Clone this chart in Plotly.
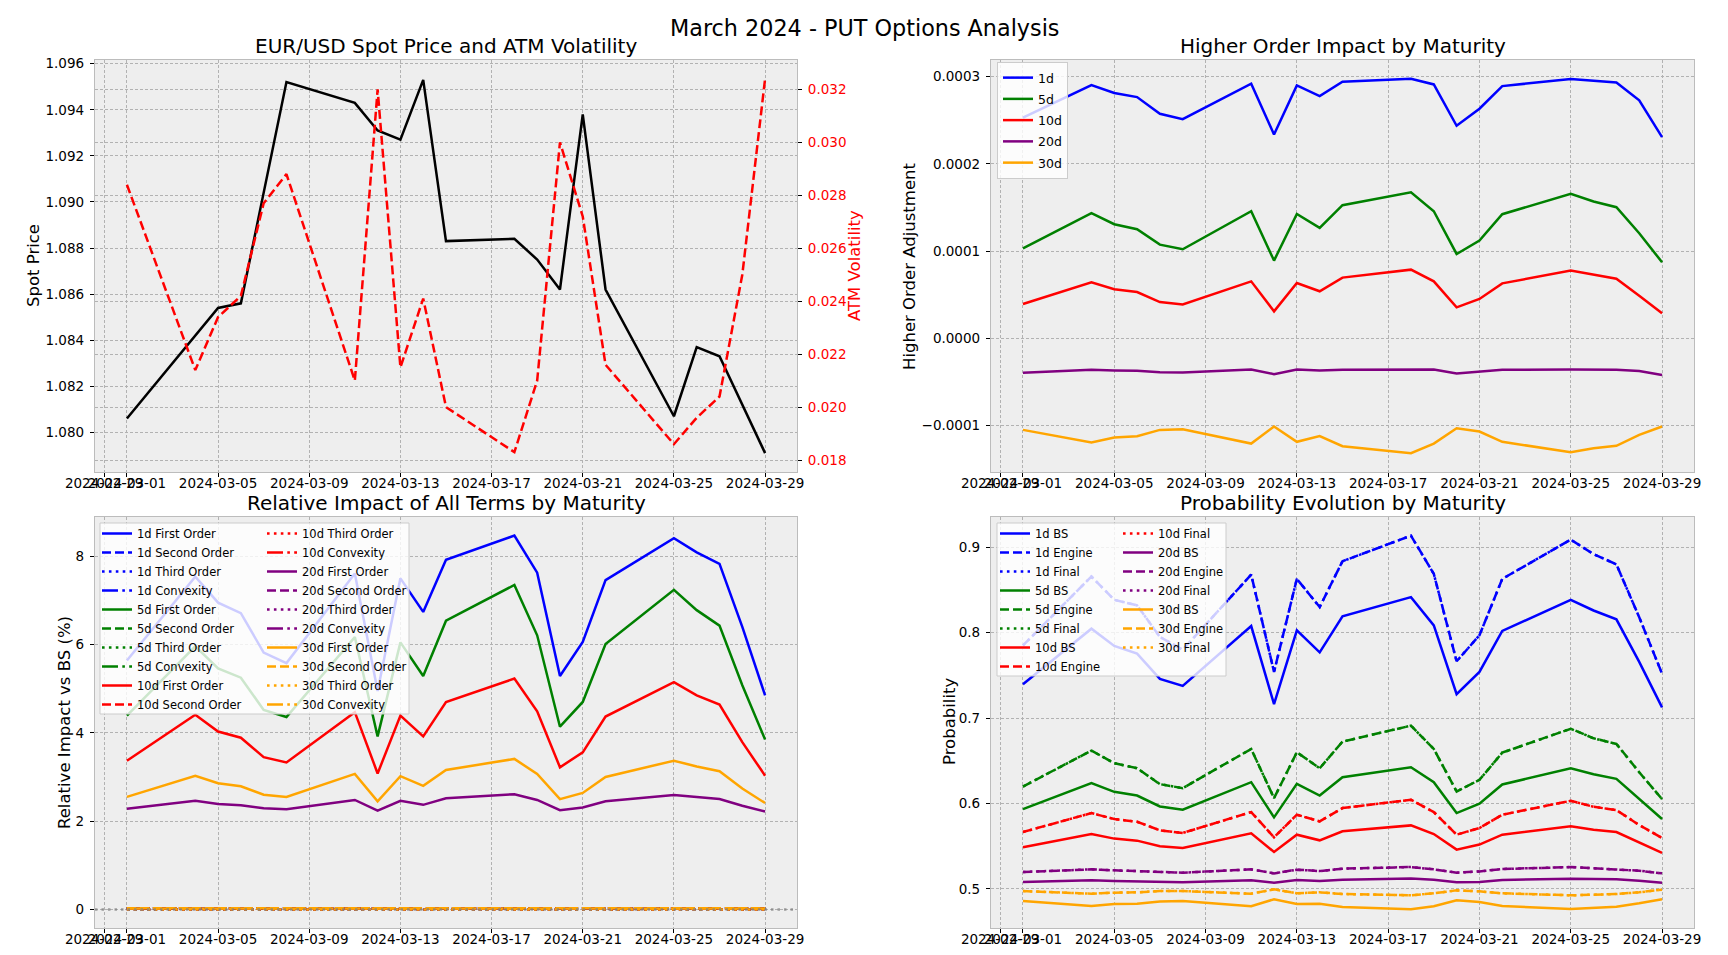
import plotly.graph_objects as go

# ---------------- data ----------------
dates = ["2024-03-01", "2024-03-04", "2024-03-05", "2024-03-06", "2024-03-07",
         "2024-03-08", "2024-03-11", "2024-03-12", "2024-03-13", "2024-03-14",
         "2024-03-15", "2024-03-18", "2024-03-19", "2024-03-20", "2024-03-21",
         "2024-03-22", "2024-03-25", "2024-03-26", "2024-03-27", "2024-03-28",
         "2024-03-29"]

tick_dates = ["2024-02-29", "2024-03-01", "2024-03-05", "2024-03-09", "2024-03-13",
              "2024-03-17", "2024-03-21", "2024-03-25", "2024-03-29"]
tick_labels = ["2024-02-29", "2024-03-01", "2024-03-05", "2024-03-09", "2024-03-13",
               "2024-03-17", "2024-03-21", "2024-03-25", "2024-03-29"]

# panel 1
spot = [1.0806, 1.0842, 1.0854, 1.0856, 1.0904, 1.0952, 1.0943, 1.0931, 1.0927, 1.0953,
        1.0883, 1.0884, 1.0875, 1.0862, 1.0938, 1.0862, 1.0807, 1.0837, 1.0833, 1.0812,
        1.0791]
atm_vol = [0.0284, 0.0214, 0.0234, 0.0242, 0.0277, 0.0288, 0.0210, 0.0320, 0.0215, 0.0241,
           0.0200, 0.0183, 0.0210, 0.0300, 0.0272, 0.0216, 0.0186, 0.0196, 0.0204, 0.0250,
           0.0324]

# panel 2 - higher order adjustment
ho_1d = [0.000253, 0.0002905, 0.0002813, 0.0002767, 0.0002576, 0.0002514, 0.000292,
         0.0002338, 0.00029, 0.0002778, 0.0002943, 0.0002977, 0.0002912, 0.0002438,
         0.0002633, 0.0002893, 0.0002974, 0.0002958, 0.0002935, 0.0002729, 0.0002308]
ho_5d = [0.0001033, 0.0001435, 0.0001309, 0.0001251, 0.0001075, 0.0001022, 0.0001458,
         0.0000892, 0.0001427, 0.0001267, 0.0001527, 0.0001676, 0.0001458, 0.0000968,
         0.0001121, 0.0001424, 0.0001657, 0.0001569, 0.0001504, 0.0001206, 0.0000873]
ho_10d = [0.0000394, 0.0000643, 0.0000563, 0.0000532, 0.0000417, 0.000039, 0.0000654,
          0.000031, 0.0000635, 0.000054, 0.0000697, 0.0000788, 0.0000654, 0.0000356,
          0.0000452, 0.0000631, 0.0000777, 0.0000727, 0.0000685, 0.000049, 0.0000287]
ho_20d = [-0.0000394, -0.000036, -0.0000367, -0.0000371, -0.0000387, -0.000039, -0.0000356,
          -0.000041, -0.0000356, -0.0000367, -0.000036, -0.0000352, -0.0000356, -0.0000402,
          -0.0000379, -0.000036, -0.0000356, -0.0000356, -0.000036, -0.0000375, -0.0000421]
ho_30d = [-0.0001049, -0.0001194, -0.0001137, -0.0001121, -0.0001049, -0.0001041, -0.0001206,
          -0.000101, -0.0001186, -0.0001121, -0.0001236, -0.0001317, -0.0001206, -0.000103,
          -0.0001068, -0.0001186, -0.0001305, -0.0001259, -0.0001232, -0.0001106, -0.000101]

# panel 3 - relative impact vs BS (%)
first_1d = [5.64, 7.54, 6.95, 6.71, 5.82, 5.58, 7.61, 4.95, 7.50, 6.74, 7.92, 8.47, 7.63,
            5.29, 6.06, 7.46, 8.41, 8.09, 7.83, 6.40, 4.85]
first_5d = [4.39, 5.96, 5.46, 5.25, 4.52, 4.36, 6.17, 3.92, 6.05, 5.29, 6.54, 7.35, 6.21,
            4.14, 4.70, 6.01, 7.24, 6.78, 6.43, 5.08, 3.85]
first_10d = [3.37, 4.41, 4.03, 3.89, 3.45, 3.33, 4.47, 3.08, 4.39, 3.92, 4.70, 5.23, 4.49,
             3.22, 3.56, 4.37, 5.15, 4.85, 4.64, 3.79, 3.03]
first_20d = [2.28, 2.46, 2.39, 2.36, 2.29, 2.27, 2.48, 2.24, 2.46, 2.37, 2.52, 2.61, 2.48,
             2.25, 2.31, 2.45, 2.59, 2.54, 2.50, 2.35, 2.22]
first_30d = [2.55, 3.03, 2.86, 2.79, 2.60, 2.55, 3.07, 2.45, 3.02, 2.80, 3.16, 3.41, 3.07,
             2.50, 2.64, 3.00, 3.37, 3.24, 3.13, 2.74, 2.41]
# second / third order and convexity terms sit on the zero line for every maturity
second_order = [0.03, 0.03, 0.03, 0.03, 0.03, 0.03, 0.03, 0.03, 0.03, 0.03, 0.03, 0.03,
                0.03, 0.03, 0.03, 0.03, 0.03, 0.03, 0.03, 0.03, 0.03]
third_order = [0.001, 0.001, 0.001, 0.001, 0.001, 0.001, 0.001, 0.001, 0.001, 0.001, 0.001,
               0.001, 0.001, 0.001, 0.001, 0.001, 0.001, 0.001, 0.001, 0.001, 0.001]
convexity = [0.02, 0.02, 0.02, 0.02, 0.02, 0.02, 0.02, 0.02, 0.02, 0.02, 0.02, 0.02, 0.02,
             0.02, 0.02, 0.02, 0.02, 0.02, 0.02, 0.02, 0.02]

# panel 4 - probabilities
bs_1d = [0.7397, 0.8047, 0.7844, 0.7755, 0.7459, 0.7377, 0.8078, 0.7163, 0.8027, 0.777,
         0.8191, 0.8416, 0.8086, 0.728, 0.754, 0.802, 0.8385, 0.826, 0.8156, 0.7658, 0.7125]
eng_1d = [0.785, 0.8658, 0.8385, 0.832, 0.795, 0.78, 0.868, 0.754, 0.863, 0.83, 0.8837,
          0.9136, 0.8689, 0.7665, 0.797, 0.863, 0.909, 0.892, 0.88, 0.818, 0.752]
bs_5d = [0.5934, 0.6237, 0.6136, 0.6093, 0.5965, 0.5926, 0.6249, 0.5837, 0.623, 0.6093,
         0.6307, 0.6424, 0.6249, 0.5887, 0.5996, 0.6222, 0.6412, 0.6342, 0.6288, 0.605, 0.5817]
eng_5d = [0.6198, 0.6619, 0.6471, 0.6412, 0.6226, 0.6179, 0.6638, 0.6062, 0.6599, 0.6412,
          0.6724, 0.6911, 0.6638, 0.614, 0.6276, 0.6595, 0.6875, 0.6763, 0.6697, 0.6366, 0.605]
bs_10d = [0.5486, 0.5642, 0.5588, 0.5564, 0.5498, 0.5479, 0.565, 0.5432, 0.5634, 0.5568,
          0.5673, 0.5743, 0.5642, 0.5459, 0.5518, 0.5634, 0.5732, 0.5693, 0.5665, 0.5545, 0.542]
eng_10d = [0.5665, 0.5887, 0.5817, 0.5786, 0.5685, 0.5654, 0.5899, 0.5603, 0.5868, 0.579,
           0.5946, 0.6043, 0.5899, 0.5634, 0.5712, 0.5868, 0.6031, 0.5961, 0.5922, 0.5747,
           0.5595]
bs_20d = [0.5080, 0.5099, 0.5091, 0.5087, 0.5080, 0.5076, 0.5099, 0.5072, 0.5103, 0.5091,
          0.5107, 0.5122, 0.5107, 0.5076, 0.5080, 0.5103, 0.5119, 0.5115, 0.5111, 0.5095,
          0.5072]
eng_20d = [0.5197, 0.5228, 0.5216, 0.5208, 0.5193, 0.5189, 0.5228, 0.5181, 0.5224, 0.5208,
           0.5236, 0.5255, 0.5228, 0.5189, 0.5204, 0.5232, 0.5255, 0.5243, 0.5232, 0.5212,
           0.5181]
bs_30d = [0.4857, 0.4799, 0.4822, 0.4826, 0.4850, 0.4857, 0.4795, 0.4877, 0.4822, 0.4826,
          0.4787, 0.4760, 0.4795, 0.4865, 0.4846, 0.4799, 0.4764, 0.4779, 0.4791, 0.4830,
          0.4877]
eng_30d = [0.4974, 0.4943, 0.4955, 0.4959, 0.4974, 0.4974, 0.4943, 0.4994, 0.4947, 0.4959,
           0.4939, 0.4924, 0.4947, 0.4982, 0.4970, 0.4947, 0.4924, 0.4931, 0.4939, 0.4959,
           0.4990]

maturities = ["1d", "5d", "10d", "20d", "30d"]
colors = {"1d": "#0000ff", "5d": "#008000", "10d": "#ff0000", "20d": "#800080", "30d": "#ffa500"}

# ---------------- layout helpers ----------------
# the page body keeps its default 8px margin, so the figure is made smaller and
# every target position (screen pixels) is shifted by that margin
OFF = 8
W, H = 1712, 939
FONT = "DejaVu Sans"


def fx(p):
    return (p - OFF) / W


def fy(p):
    return 1 - (p - OFF) / H


LW = 2.5
DASH = {"solid": "solid", "dash": "9px,4px", "dot": "2.6px,4.3px", "dashdot": "16px,4.3px,2.6px,4.3px"}

x_left = [fx(95), fx(797)]
x_right = [fx(991), fx(1694)]
y_top = [fy(472), fy(60)]
y_bot = [fy(928), fy(517)]
x_range = ["2024-02-28 14:24:00", "2024-03-30 09:36:00"]

fig = go.Figure()

# panel 1
fig.add_trace(go.Scatter(x=dates, y=spot, mode="lines", name="Spot",
                         line=dict(color="black", width=LW), xaxis="x", yaxis="y",
                         showlegend=False))
fig.add_trace(go.Scatter(x=dates, y=atm_vol, mode="lines", name="ATM Vol",
                         line=dict(color="red", width=LW, dash=DASH["dash"]),
                         xaxis="x", yaxis="y2", showlegend=False))

# panel 2
ho = {"1d": ho_1d, "5d": ho_5d, "10d": ho_10d, "20d": ho_20d, "30d": ho_30d}
for m in maturities:
    fig.add_trace(go.Scatter(x=dates, y=ho[m], mode="lines", name=m,
                             line=dict(color=colors[m], width=LW),
                             xaxis="x2", yaxis="y3", legend="legend", legendgroup="p2" + m))

# panel 3
firsts = {"1d": first_1d, "5d": first_5d, "10d": first_10d, "20d": first_20d, "30d": first_30d}
terms = [("First Order", "solid"), ("Second Order", "dash"), ("Third Order", "dot"),
         ("Convexity", "dashdot")]
k = 0
for m in maturities:
    vals = {"First Order": firsts[m], "Second Order": second_order,
            "Third Order": third_order, "Convexity": convexity}
    for term, style in terms:
        fig.add_trace(go.Scatter(x=dates, y=vals[term], mode="lines", name=f"{m} {term}",
                                 line=dict(color=colors[m], width=LW, dash=DASH[style]),
                                 xaxis="x3", yaxis="y4",
                                 legend="legend2" if k < 10 else "legend3"))
        k += 1

# panel 4
bs = {"1d": bs_1d, "5d": bs_5d, "10d": bs_10d, "20d": bs_20d, "30d": bs_30d}
eng = {"1d": eng_1d, "5d": eng_5d, "10d": eng_10d, "20d": eng_20d, "30d": eng_30d}
k = 0
for m in maturities:
    for lab, vals, style in [("BS", bs[m], "solid"), ("Engine", eng[m], "dash"),
                             ("Final", eng[m], "dot")]:
        fig.add_trace(go.Scatter(x=dates, y=vals, mode="lines", name=f"{m} {lab}",
                                 line=dict(color=colors[m], width=LW, dash=DASH[style]),
                                 xaxis="x4", yaxis="y5",
                                 legend="legend4" if k < 8 else "legend5"))
        k += 1

tickfont = dict(family=FONT, size=13.5, color="black")
grid = dict(showgrid=True, gridcolor="#b2b2b2", gridwidth=0.8, griddash="3px,2px",
            zeroline=False, showline=True, linecolor="#bcbcbc", linewidth=1.3,
            ticks="outside", ticklen=4, tickwidth=1, tickcolor="black",
            tickfont=tickfont, automargin=False)


def xax(domain, anchor):
    return dict(grid, domain=domain, anchor=anchor, type="date", range=x_range,
                tickmode="array", tickvals=tick_dates, ticktext=tick_labels,
                tickangle=0, mirror=True, ticklabelstandoff=-5)


layout = dict(
    width=W, height=H, margin=dict(l=0, r=0, t=0, b=0),
    paper_bgcolor="white", plot_bgcolor="#eeeeee",
    font=dict(family=FONT, color="black"),
    xaxis=xax(x_left, "y"),
    xaxis2=xax(x_right, "y3"),
    xaxis3=xax(x_left, "y4"),
    xaxis4=xax(x_right, "y5"),
    yaxis=dict(grid, domain=y_top, anchor="x", range=[1.07828, 1.09616], dtick=0.002,
               tickformat=".3f", mirror=True, ticklabelstandoff=3),
    yaxis2=dict(grid, overlaying="y", side="right", anchor="x", range=[0.01755, 0.03311],
                dtick=0.002, tickformat=".3f", tickfont=dict(tickfont, color="red"),
                ticklabelstandoff=3),
    yaxis3=dict(grid, domain=y_top, anchor="x2", range=[-0.0001532, 0.0003192],
                dtick=0.0001, tickformat=".4f", mirror=True, ticklabelstandoff=3),
    yaxis4=dict(grid, domain=y_bot, anchor="x3", range=[-0.42, 8.89], dtick=2,
                tickformat="d", mirror=True, ticklabelstandoff=3),
    yaxis5=dict(grid, domain=y_bot, anchor="x4", range=[0.4541, 0.9355], dtick=0.1,
                tickformat=".1f", mirror=True, ticklabelstandoff=3),
)

lgfont_small = dict(family=FONT, size=11.5, color="black")
layout["legend"] = dict(x=fx(997), y=fy(62), xanchor="left", yanchor="top",
                        bgcolor="rgba(255,255,255,0.8)", bordercolor="#cccccc", borderwidth=1,
                        font=dict(family=FONT, size=12.5, color="black"), itemwidth=30,
                        entrywidth=42, entrywidthmode="pixels",
                        traceorder="grouped", tracegroupgap=2)
for name, xpos, ypos in [("legend2", 97, 519), ("legend3", 262, 519),
                         ("legend4", 995, 519), ("legend5", 1118, 519)]:
    layout[name] = dict(x=fx(xpos), y=fy(ypos), xanchor="left", yanchor="top",
                        bgcolor="rgba(0,0,0,0)", borderwidth=0, font=lgfont_small,
                        itemwidth=30, traceorder="normal")

fig.update_layout(**layout)

# legend frames for the two-column legends, zero line of panel 3
fig.add_shape(type="rect", xref="paper", yref="paper", x0=fx(100), x1=fx(409),
              y0=fy(714), y1=fy(523), fillcolor="rgba(255,255,255,0.8)",
              line=dict(color="#cccccc", width=1), layer="above")
fig.add_shape(type="rect", xref="paper", yref="paper", x0=fx(997), x1=fx(1226),
              y0=fy(676), y1=fy(523), fillcolor="rgba(255,255,255,0.8)",
              line=dict(color="#cccccc", width=1), layer="above")
fig.add_shape(type="line", xref="x3 domain", yref="y4", x0=0, x1=1, y0=0, y1=0,
              line=dict(color="rgba(128,128,128,0.75)", width=2.5, dash="2.5px,4px"),
              layer="above")

# titles and axis labels
ann = []
ann.append(dict(text="March 2024 - PUT Options Analysis", x=fx(864), y=fy(28),
                font=dict(size=22.3)))
for text, xc, yc in [("EUR/USD Spot Price and ATM Volatility", 446, 46),
                     ("Higher Order Impact by Maturity", 1342.5, 46),
                     ("Relative Impact of All Terms by Maturity", 446, 503),
                     ("Probability Evolution by Maturity", 1342.5, 503)]:
    ann.append(dict(text=text, x=fx(xc), y=fy(yc), font=dict(size=20)))
for text, xc, yc, col in [("Spot Price", 33, 266, "black"),
                          ("ATM Volatility", 854, 266, "red"),
                          ("Higher Order Adjustment", 909, 266, "black"),
                          ("Relative Impact vs BS (%)", 64, 722, "black"),
                          ("Probability", 949, 722, "black")]:
    ann.append(dict(text=text, x=fx(xc), y=fy(yc), textangle=-90,
                    font=dict(size=16.5, color=col)))
for a in ann:
    a.update(xref="paper", yref="paper", showarrow=False, xanchor="center", yanchor="middle")
    a["font"] = dict(family=FONT, color=a["font"].get("color", "black"), size=a["font"]["size"])
fig.update_layout(annotations=ann)

fig.write_html("out.html")
